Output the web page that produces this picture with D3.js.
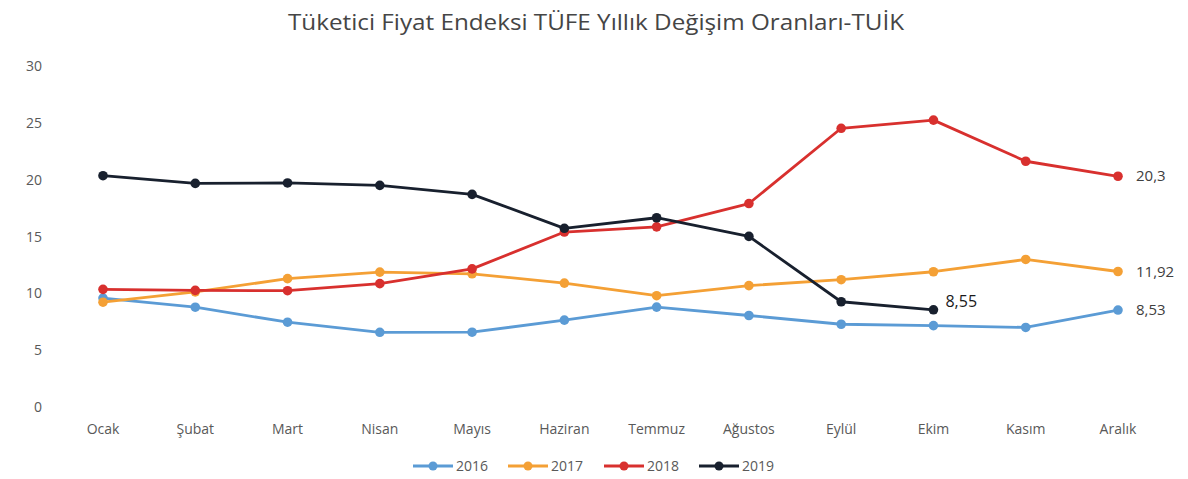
<!DOCTYPE html>
<html>
<head>
<meta charset="utf-8">
<script src="https://cdn.jsdelivr.net/npm/d3@7"></script>
<style>
  body { margin: 0; background: #fff; }
  svg { font-family: "Open Sans", "Noto Sans", sans-serif; }
</style>
</head>
<body>
<svg id="chart" width="1188" height="479"></svg>
<script>
const months = ["Ocak", "Şubat", "Mart", "Nisan", "Mayıs", "Haziran", "Temmuz", "Ağustos", "Eylül", "Ekim", "Kasım", "Aralık"];
const years = ["2016", "2017", "2018", "2019"];
const values2016 = [9.58, 8.78, 7.46, 6.57, 6.58, 7.64, 8.79, 8.05, 7.28, 7.16, 7.00, 8.53];
const values2017 = [9.22, 10.13, 11.29, 11.87, 11.72, 10.90, 9.79, 10.68, 11.20, 11.90, 12.98, 11.92];
const values2018 = [10.35, 10.26, 10.23, 10.85, 12.15, 15.39, 15.85, 17.90, 24.52, 25.24, 21.62, 20.30];
const values2019 = [20.35, 19.67, 19.71, 19.50, 18.71, 15.72, 16.65, 15.01, 9.26, 8.55];
const yTicks = [0, 5, 10, 15, 20, 25, 30];
const colors = ["#5b9bd5", "#f4a035", "#d8302e", "#18202e"];

const series = [values2016, values2017, values2018, values2019].map((v, i) => ({ year: years[i], values: v, color: colors[i] }));

const svg = d3.select("#chart");

const x = d3.scalePoint()
    .domain(months)
    .range([103, 1118]);

const y = d3.scaleLinear()
    .domain([0, 30])
    .range([407, 66]);

// title
svg.append("text")
    .attr("x", 596)
    .attr("y", 30)
    .attr("text-anchor", "middle")
    .attr("textLength", 616)
    .attr("lengthAdjust", "spacingAndGlyphs")
    .style("font-size", "22px")
    .style("fill", "#454545")
    .text("Tüketici Fiyat Endeksi TÜFE Yıllık Değişim Oranları-TUİK");

// y axis labels (no line, no grid)
svg.selectAll(".ytick")
    .data(yTicks)
    .join("text")
    .attr("class", "ytick")
    .attr("x", 42)
    .attr("y", d => y(d) + 5)
    .attr("text-anchor", "end")
    .style("font-size", "14px")
    .style("fill", "#595959")
    .text(d => d);

// x axis labels
svg.selectAll(".xtick")
    .data(months)
    .join("text")
    .attr("class", "xtick")
    .attr("x", d => x(d))
    .attr("y", 434)
    .attr("text-anchor", "middle")
    .style("font-size", "14px")
    .style("fill", "#595959")
    .text(d => d);

const line = d3.line()
    .x((d, i) => x(months[i]))
    .y(d => y(d));

const g = svg.append("g");

series.forEach(s => {
    g.append("path")
        .datum(s.values)
        .attr("d", line)
        .attr("fill", "none")
        .attr("stroke", s.color)
        .attr("stroke-width", 2.8)
        .attr("stroke-linejoin", "round");

    g.selectAll(null)
        .data(s.values)
        .join("circle")
        .attr("cx", (d, i) => x(months[i]))
        .attr("cy", d => y(d))
        .attr("r", 4.8)
        .attr("fill", s.color);
});

// end labels
const fmt = v => String(v).replace(".", ",");
[values2018, values2017, values2016].forEach(v => {
    const last = v[v.length - 1];
    svg.append("text")
        .attr("x", x(months[v.length - 1]) + 18)
        .attr("y", y(last) + 5)
        .style("font-size", "15px")
        .style("fill", "#404040")
        .text(fmt(last));
});
const last19 = values2019[values2019.length - 1];
svg.append("text")
    .attr("x", x(months[values2019.length - 1]) + 12)
    .attr("y", y(last19) - 3)
    .style("font-size", "16px")
    .style("fill", "#1a1a1a")
    .text(fmt(last19));

// legend
const legendX = [413, 508, 604, 699];
const legend = svg.selectAll(".legend")
    .data(series)
    .join("g")
    .attr("class", "legend")
    .attr("transform", (d, i) => `translate(${legendX[i]}, 466)`);

legend.append("line")
    .attr("x1", 0).attr("x2", 40)
    .attr("stroke", d => d.color)
    .attr("stroke-width", 3);
legend.append("circle")
    .attr("cx", 20)
    .attr("r", 4.5)
    .attr("fill", d => d.color);
legend.append("text")
    .attr("x", 43)
    .attr("y", 5)
    .style("font-size", "14px")
    .style("fill", "#595959")
    .text(d => d.year);
</script>
</body>
</html>
